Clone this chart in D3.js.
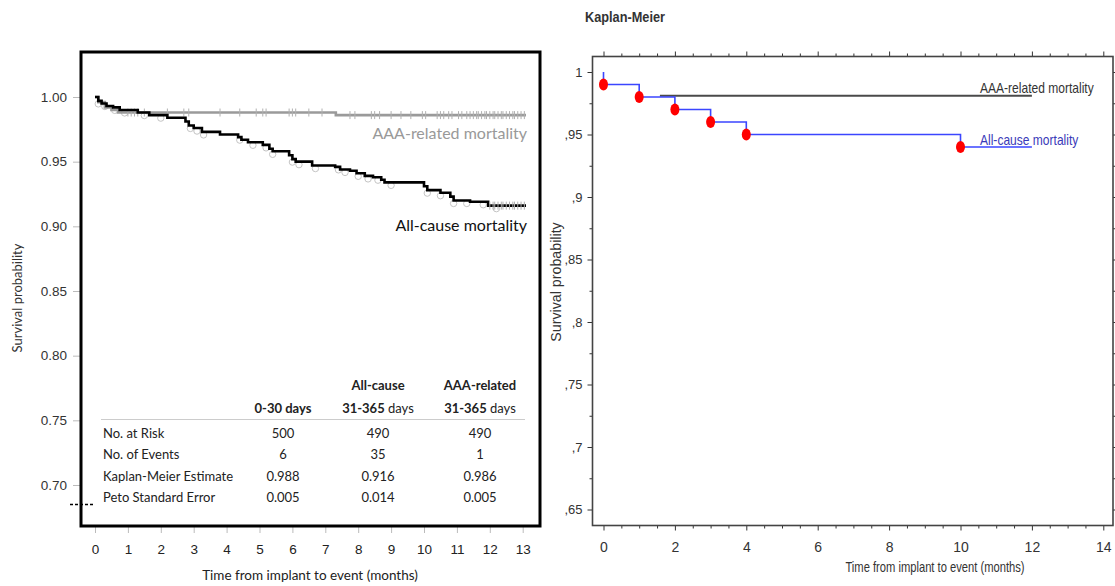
<!DOCTYPE html>
<html>
<head>
<meta charset="utf-8">
<script src="https://cdn.jsdelivr.net/npm/d3@7"></script>
<style>
  body { margin: 0; background: #fff; }
  .cal { font-family: Lato, "Open Sans", sans-serif; }
  .nar { font-family: "Liberation Sans Narrow", "Arial Narrow", "Liberation Sans", sans-serif; }
</style>
</head>
<body>
<svg id="chart" width="1115" height="586"></svg>
<script>
// ---- left panel: all-cause KM curve (months, survival)
const allTime = [0, 0.1, 0.2, 0.35, 0.55, 0.75, 1.3, 1.65, 2.2, 2.75, 2.85, 3.0, 3.25, 3.8, 4.35, 4.45, 4.65,
  5.1, 5.3, 5.4, 5.9, 6.0, 6.1, 6.6, 7.3, 7.45, 7.75, 7.95, 8.2, 8.45, 8.7, 8.8, 10.0, 10.1, 10.5, 10.8, 10.9,
  11.4, 11.95, 13.1];
const allSurv = [1.0, 0.997, 0.995, 0.993, 0.992, 0.990, 0.988, 0.986, 0.984, 0.981, 0.978, 0.976, 0.973, 0.971, 0.969, 0.967, 0.965,
  0.963, 0.960, 0.958, 0.955, 0.952, 0.950, 0.947, 0.946, 0.944, 0.943, 0.941, 0.939, 0.938, 0.936, 0.934, 0.931, 0.928, 0.926, 0.923, 0.920,
  0.919, 0.916, 0.916];

// ---- left panel: AAA-related KM curve
const aaaTime = [0, 0.1, 0.3, 0.5, 0.7, 7.32, 13.1];
const aaaSurv = [1.0, 0.996, 0.992, 0.990, 0.988, 0.986, 0.986];

// censor marks
const aaaCensor = [1.0, 1.1, 1.2, 1.3, 1.5, 2.2, 2.7, 2.85, 3.8, 4.4, 4.9, 5.1, 5.2, 5.9, 6.0, 6.1, 6.5, 6.9,
  7.75, 7.9, 8.4, 8.5, 8.65, 9.0, 9.3, 9.6, 9.95, 10.05, 10.4, 10.5, 10.6, 10.75, 10.85, 11.05, 11.15,
  11.3, 11.4, 11.5, 11.6, 11.65, 11.75, 11.85, 11.9, 12.0, 12.1, 12.15, 12.25, 12.35, 12.4, 12.5, 12.6,
  12.7, 12.75, 12.85, 12.95, 13.05];
const allCensor = [12.0, 12.1, 12.15, 12.25, 12.35, 12.4, 12.5, 12.6, 12.7, 12.75, 12.85, 12.95, 13.05];
const allCircles = [0.1, 0.3, 0.6, 0.9, 1.5, 2.0, 2.9, 3.1, 3.3, 4.4, 4.8, 5.2, 5.4, 6.0, 6.2, 6.7, 7.4, 7.6,
  8.0, 8.3, 8.6, 9.0, 10.1, 10.5, 10.9, 11.3, 11.8, 12.2];

const leftXTicks = [0, 1, 2, 3, 4, 5, 6, 7, 8, 9, 10, 11, 12, 13];
const leftYTicks = [0.70, 0.75, 0.80, 0.85, 0.90, 0.95, 1.00];

// summary table
const colHead1 = ["", "All-cause", "AAA-related"];
const colHead2 = [["0-30", "days"], ["31-365", "days"], ["31-365", "days"]];
const rowNames = ["No. at Risk", "No. of Events", "Kaplan-Meier Estimate", "Peto Standard Error"];
const atRisk = ["500", "490", "490"];
const nEvents = ["6", "35", "1"];
const kmEstimate = ["0.988", "0.916", "0.986"];
const petoSE = ["0.005", "0.014", "0.005"];

// ---- right panel
const kmTime = [0, 1, 2, 3, 4, 10, 12];
const kmSurv = [0.99, 0.98, 0.97, 0.96, 0.95, 0.94, 0.94];
const eventTime = [0, 1, 2, 3, 4, 10];
const eventSurv = [0.99, 0.98, 0.97, 0.96, 0.95, 0.94];
const aaaRTime = [1.58, 12];
const aaaRSurv = [0.981, 0.981];
const rightXTicks = [0, 2, 4, 6, 8, 10, 12, 14];
const rightXMinor = [0.5, 1, 1.5, 2.5, 3, 3.5, 4.5, 5, 5.5, 6.5, 7, 7.5, 8.5, 9, 9.5, 10.5, 11, 11.5, 12.5, 13, 13.5];
const rightYTicks = [0.65, 0.70, 0.75, 0.80, 0.85, 0.90, 0.95, 1.00];
const rightYLabels = [",65", ",7", ",75", ",8", ",85", ",9", ",95", "1"];
const rightYMinor = [0.675, 0.725, 0.775, 0.825, 0.875, 0.925, 0.975];

const svg = d3.select("#chart");

// ================= LEFT PANEL =================
const xL = d3.scaleLinear().domain([0, 13]).range([95, 522.7]);
const yL = d3.scaleLinear().domain([0.70, 1.00]).range([485, 97]);
const L = svg.append("g").attr("class", "cal");

const axL = L.append("g").attr("transform", "translate(81,0)")
  .call(d3.axisLeft(yL).tickValues(leftYTicks).tickFormat(d3.format(".2f")).tickSize(8).tickPadding(6));
axL.select(".domain").remove();
axL.selectAll("line").attr("stroke", "#bbb");
axL.selectAll("text").attr("font-size", 13.5).attr("fill", "#333");

const axLB = L.append("g").attr("transform", "translate(0,527)")
  .call(d3.axisBottom(xL).tickValues(leftXTicks).tickSize(6).tickPadding(11));
axLB.select(".domain").remove();
axLB.selectAll("line").attr("stroke", "#bbb");
axLB.selectAll("text").attr("font-size", 13.5).attr("fill", "#222");

const step = (xs, ys) => d3.line().curve(d3.curveStepAfter).x(d => xs(d[0])).y(d => ys(d[1]));

// open circles under the all-cause curve
const survAt = t => allSurv[d3.bisectRight(allTime, t) - 1];
L.append("g").selectAll("circle").data(allCircles).join("circle")
  .attr("cx", d => xL(d)).attr("cy", d => yL(survAt(d)) + 3).attr("r", 3.2)
  .attr("fill", "none").attr("stroke", "#c4c4c4").attr("stroke-width", 1);

// AAA-related (grey)
L.append("path").datum(d3.zip(aaaTime, aaaSurv))
  .attr("d", step(xL, yL)).attr("fill", "none").attr("stroke", "#9a9a9a").attr("stroke-width", 2.6);
const aaaAt = t => aaaSurv[d3.bisectRight(aaaTime, t) - 1];
L.append("g").selectAll("line").data(aaaCensor).join("line")
  .attr("x1", d => xL(d)).attr("x2", d => xL(d))
  .attr("y1", d => yL(aaaAt(d)) - 4).attr("y2", d => yL(aaaAt(d)) + 4)
  .attr("stroke", "#b0b0b0").attr("stroke-width", 1);

// all-cause (black)
L.append("path").datum(d3.zip(allTime, allSurv))
  .attr("d", step(xL, yL)).attr("fill", "none").attr("stroke", "#000").attr("stroke-width", 2.6);
L.append("g").selectAll("line").data(allCensor).join("line")
  .attr("x1", d => xL(d)).attr("x2", d => xL(d))
  .attr("y1", d => yL(survAt(d)) - 4).attr("y2", d => yL(survAt(d)) + 4)
  .attr("stroke", "#b0b0b0").attr("stroke-width", 1);

L.append("text").attr("x", 527).attr("y", 139).attr("text-anchor", "end")
  .attr("font-size", 16).attr("fill", "#999").text("AAA-related mortality");
L.append("text").attr("x", 527).attr("y", 231).attr("text-anchor", "end")
  .attr("font-size", 16).attr("fill", "#111").text("All-cause mortality");

// table
const colX = [283, 378, 480];
const T = L.append("g").attr("font-size", 13).attr("fill", "#222");
T.selectAll(".h1").data(colHead1).join("text").attr("class", "h1")
  .attr("x", (d, i) => colX[i]).attr("y", 390).attr("text-anchor", "middle").attr("font-weight", "bold").text(d => d);
const h2 = T.selectAll(".h2").data(colHead2).join("text").attr("class", "h2")
  .attr("x", (d, i) => colX[i]).attr("y", 413).attr("text-anchor", "middle");
h2.append("tspan").attr("font-weight", "bold").text(d => d[0]);
h2.append("tspan").attr("font-weight", (d, i) => i === 0 ? "bold" : "normal").text(d => " " + d[1]);
T.append("line").attr("x1", 101).attr("x2", 525).attr("y1", 419.5).attr("y2", 419.5)
  .attr("stroke", "#ccc").attr("stroke-width", 1.2);
const rowY = [438, 459, 481, 502];
T.selectAll(".rn").data(rowNames).join("text").attr("class", "rn")
  .attr("x", 103).attr("y", (d, i) => rowY[i]).text(d => d);
[atRisk, nEvents, kmEstimate, petoSE].forEach((row, r) => {
  T.selectAll(".r" + r).data(row).join("text").attr("class", "r" + r)
    .attr("x", (d, i) => colX[i]).attr("y", rowY[r]).attr("text-anchor", "middle").text(d => d);
});

// frame
L.append("rect").attr("x", 81).attr("y", 52).attr("width", 459).attr("height", 474)
  .attr("fill", "none").attr("stroke", "#000").attr("stroke-width", 3);
L.append("line").attr("x1", 70).attr("x2", 93).attr("y1", 504.5).attr("y2", 504.5)
  .attr("stroke", "#000").attr("stroke-width", 1.5).attr("stroke-dasharray", "3,2");

L.append("text").attr("x", 310).attr("y", 580).attr("text-anchor", "middle")
  .attr("font-size", 13.5).attr("fill", "#222").text("Time from implant to event (months)");
L.append("text").attr("transform", "translate(22,298) rotate(-90)").attr("text-anchor", "middle")
  .attr("font-size", 13).attr("fill", "#333").text("Survival probability");

// ================= RIGHT PANEL =================
const xR = d3.scaleLinear().domain([0, 14]).range([603.5, 1103.3]);
const yR = d3.scaleLinear().domain([0.65, 1.00]).range([509.5, 72]);
const R = svg.append("g").attr("class", "nar");
const boxR = { x0: 592.5, y0: 56.5, x1: 1113, y1: 525.5 };

function styleAxis(g, size) {
  g.select(".domain").remove();
  g.selectAll("line").attr("stroke", "#333");
  g.selectAll("text").attr("font-size", size).attr("fill", "#333");
}
// left axis
styleAxis(R.append("g").attr("transform", `translate(${boxR.x0},0)`)
  .call(d3.axisLeft(yR).tickValues(rightYTicks).tickFormat((d, i) => rightYLabels[i]).tickSize(5).tickPadding(5)), 13);
styleAxis(R.append("g").attr("transform", `translate(${boxR.x0},0)`)
  .call(d3.axisLeft(yR).tickValues(rightYMinor).tickFormat("").tickSize(3)), 13);
// right axis ticks
styleAxis(R.append("g").attr("transform", `translate(${boxR.x1},0)`)
  .call(d3.axisRight(yR).tickValues(rightYTicks).tickFormat("").tickSize(4)), 13);
styleAxis(R.append("g").attr("transform", `translate(${boxR.x1},0)`)
  .call(d3.axisRight(yR).tickValues(rightYMinor).tickFormat("").tickSize(2.5)), 13);
// bottom axis
styleAxis(R.append("g").attr("transform", `translate(0,${boxR.y1})`)
  .call(d3.axisBottom(xR).tickValues(rightXTicks).tickSize(5).tickPadding(12)), 14);
styleAxis(R.append("g").attr("transform", `translate(0,${boxR.y1})`)
  .call(d3.axisBottom(xR).tickValues(rightXMinor).tickFormat("").tickSize(3)), 14);
// top axis ticks
styleAxis(R.append("g").attr("transform", `translate(0,${boxR.y0})`)
  .call(d3.axisTop(xR).tickValues(rightXTicks).tickFormat("").tickSize(5)), 14);
styleAxis(R.append("g").attr("transform", `translate(0,${boxR.y0})`)
  .call(d3.axisTop(xR).tickValues(rightXMinor).tickFormat("").tickSize(3)), 14);

R.append("rect").attr("x", boxR.x0).attr("y", boxR.y0)
  .attr("width", boxR.x1 - boxR.x0).attr("height", boxR.y1 - boxR.y0)
  .attr("fill", "none").attr("stroke", "#444").attr("stroke-width", 1.6);

// AAA-related line
R.append("path").datum(d3.zip(aaaRTime, aaaRSurv))
  .attr("d", step(xR, yR)).attr("fill", "none").attr("stroke", "#4a4a4a").attr("stroke-width", 1.8);

// all-cause step line (starts at 1 at time 0)
const kmPts = [[0, 1.0]].concat(d3.zip(kmTime, kmSurv));
R.append("path").datum(kmPts)
  .attr("d", step(xR, yR))
  .attr("fill", "none").attr("stroke", "#3b46ff").attr("stroke-width", 1.6);

R.append("g").selectAll("ellipse").data(d3.zip(eventTime, eventSurv)).join("ellipse")
  .attr("cx", d => xR(d[0])).attr("cy", d => yR(d[1])).attr("rx", 4.5).attr("ry", 6)
  .attr("fill", "#ff0000");

// condensed labels: horizontal squeeze via transform
R.append("text").attr("transform", "translate(980,92.5) scale(0.86,1)").attr("font-size", 14)
  .attr("fill", "#333").text("AAA-related mortality");
R.append("text").attr("transform", "translate(980,144.5) scale(0.86,1)").attr("font-size", 14)
  .attr("fill", "#3a3ab8").text("All-cause mortality");

R.append("text").attr("transform", "translate(585,22) scale(0.85,1)").attr("font-size", 15)
  .attr("font-weight", "bold").attr("fill", "#333").text("Kaplan-Meier");
R.append("text").attr("transform", "translate(935,572) scale(0.8,1)").attr("text-anchor", "middle")
  .attr("font-size", 14).attr("fill", "#333").text("Time from implant to event (months)");
R.append("text").attr("transform", "translate(561,282) rotate(-90) scale(0.95,1)").attr("text-anchor", "middle")
  .attr("font-size", 15).attr("fill", "#333").text("Survival probability");
</script>
</body>
</html>
